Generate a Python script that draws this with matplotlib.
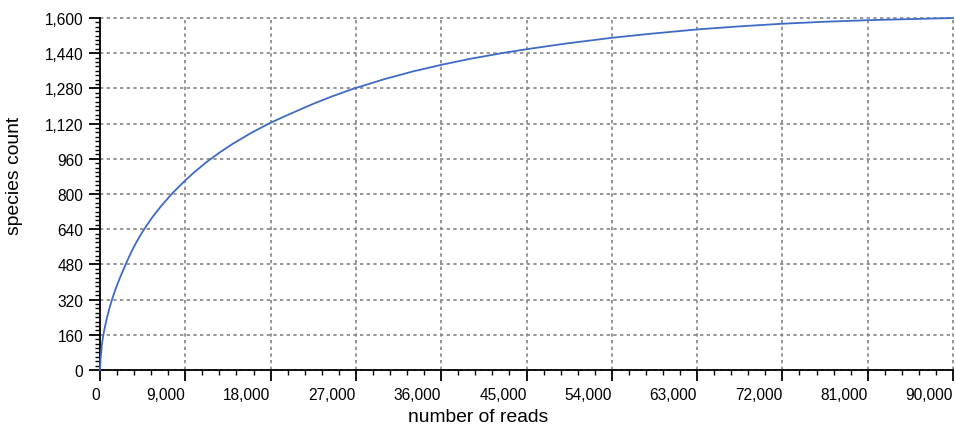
import matplotlib
matplotlib.use("Agg")
import matplotlib.pyplot as plt
from matplotlib.ticker import MultipleLocator, FuncFormatter

plt.rcParams['font.family'] = ['Liberation Sans', 'DejaVu Sans']

# Rarefaction curve: sampled reads vs. observed species
reads = [0, 40, 100, 200, 315, 420, 500, 750, 1000, 1250, 1700, 2200, 2760,
         3200, 3700, 4200, 4660, 5500, 6500, 7650, 9000, 10000, 11300, 12500,
         14000, 16000, 18000, 20000, 22500, 24500, 26700, 30000, 33000, 36000,
         39000, 42500, 45000, 49000, 54000, 58000, 63000, 67500, 72000, 76500,
         81000, 85500, 90000]
species = [0, 35, 70, 115, 150, 175, 192, 240, 282, 318, 375, 429, 485,
           527, 570, 608, 640, 693, 748, 804, 862, 901, 947, 985,
           1028, 1079, 1124, 1163, 1210, 1244, 1278, 1322, 1357, 1387,
           1414, 1441, 1458, 1483, 1510, 1528, 1548, 1562, 1574, 1583,
           1590, 1595, 1600]

x_major = 9000
y_major = 160
x_label = "number of reads"
y_label = "species count"

fig = plt.figure(figsize=(9.55, 4.27), dpi=100)
ax = fig.add_axes([100 / 955, 1 - 371 / 427, 853 / 955, 352 / 427])

ax.plot(reads, species, color="#3F6BC6", lw=1.3, zorder=3, clip_on=False,
        solid_joinstyle="round")

ax.set_xlim(0, 90000)
ax.set_ylim(0, 1600)
ax.xaxis.set_major_locator(MultipleLocator(x_major))
ax.xaxis.set_minor_locator(MultipleLocator(x_major / 5))
ax.yaxis.set_major_locator(MultipleLocator(y_major))
ax.yaxis.set_minor_locator(MultipleLocator(y_major / 8))
fmt = FuncFormatter(lambda v, p: f"{int(round(v)):,}")
ax.xaxis.set_major_formatter(fmt)
ax.yaxis.set_major_formatter(fmt)

ax.grid(True, which="major", color="#858585", lw=1.2, ls=(0, (2, 2)))
for gl in ax.get_xgridlines() + ax.get_ygridlines():
    gl.set_clip_on(False)

for side in ("top", "right"):
    ax.spines[side].set_visible(False)
for side in ("left", "bottom"):
    ax.spines[side].set_linewidth(1.3)
    ax.spines[side].set_color("black")

ax.tick_params(which="major", direction="out", length=8, width=1.3,
               labelsize=11.2, color="black", pad=4)
ax.tick_params(which="minor", direction="out", length=3.8, width=1.0,
               color="black")
for lbl in ax.get_xticklabels():
    lbl.set_horizontalalignment("right")

ax.set_xlabel(x_label, fontsize=13.9)
ax.set_ylabel(y_label, fontsize=13.9)
ax.xaxis.set_label_coords(0.443, -0.109)
ax.yaxis.set_label_coords(-0.0897, 0.554)

fig.savefig("out.png", dpi=100)
